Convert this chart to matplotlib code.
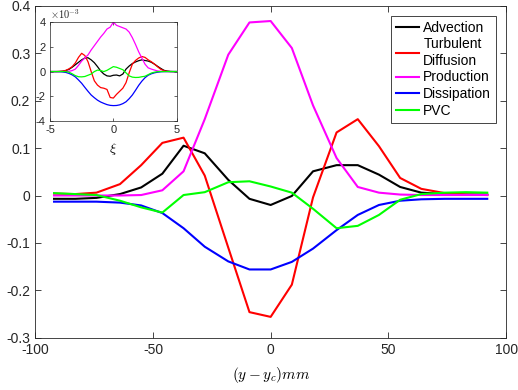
import numpy as np
import matplotlib
matplotlib.use('Agg')
import matplotlib.pyplot as plt

plt.rcParams['font.family'] = ['Liberation Sans', 'DejaVu Sans']
plt.rcParams['mathtext.fontset'] = 'cm'
plt.rcParams['axes.unicode_minus'] = False

# main profiles, (y - y_c) in mm
y = [-92, -83, -74, -64, -55, -46, -37, -28, -18, -9, 0,
     9, 18, 28, 37, 46, 55, 64, 74, 83, 92]
advection = [-0.007, -0.007, -0.005, 0.003, 0.017, 0.046, 0.105, 0.089, 0.033, -0.007, -0.020,
             -0.001, 0.051, 0.064, 0.064, 0.044, 0.018, 0.006, 0.003, 0.002, 0.002]
turb_diff = [0.004, 0.003, 0.006, 0.024, 0.064, 0.111, 0.122, 0.042, -0.110, -0.246, -0.256,
             -0.188, -0.004, 0.133, 0.161, 0.104, 0.037, 0.014, 0.005, 0.002, 0.001]
production = [0.0, 0.0, 0.0, 0.0, 0.001, 0.011, 0.051, 0.161, 0.297, 0.365, 0.368,
              0.311, 0.190, 0.079, 0.018, 0.006, 0.002, 0.001, 0.001, 0.001, 0.001]
dissipation = [-0.013, -0.013, -0.013, -0.015, -0.021, -0.037, -0.069, -0.108, -0.139, -0.156, -0.156,
               -0.140, -0.112, -0.073, -0.041, -0.020, -0.011, -0.008, -0.007, -0.007, -0.007]
pvc = [0.005, 0.003, 0.001, -0.011, -0.025, -0.036, 0.001, 0.007, 0.028, 0.030, 0.019,
       0.006, -0.028, -0.069, -0.064, -0.041, -0.009, 0.003, 0.006, 0.007, 0.006]

# inset, similarity coordinate xi (values x 1e-3)
xi = np.arange(-5, 5.01, 0.25)
in_adv = [0, 0, 0, 0.01, 0.03, 0.08, 0.18, 0.35, 0.55, 0.75, 0.95, 1.1, 1.12, 0.95, 0.72, 0.4,
          0.05, -0.2, -0.35, -0.38, -0.3, -0.28, -0.35, -0.2, 0.2, 0.45, 0.65, 0.78, 0.88, 0.95,
          0.9, 0.85, 0.75, 0.6, 0.42, 0.25, 0.1, 0.04, 0.01, 0, 0]
in_turb = [0, 0, 0, 0.01, 0.03, 0.1, 0.22, 0.4, 0.7, 1.15, 1.48, 1.3, 0.8, 0.0, -0.75, -1.1,
           -1.3, -1.35, -1.45, -2.1, -2.15, -1.85, -1.6, -1.35, -0.9, -0.1, 0.6, 0.9, 1.1, 1.22,
           1.15, 0.95, 0.8, 0.6, 0.38, 0.18, 0.07, 0.02, 0, 0, 0]
in_prod = [0, 0, 0, 0, 0, 0, 0.02, 0.08, 0.2, 0.5, 0.85, 1.1, 1.35, 1.75, 2.1, 2.45,
           2.8, 3.1, 3.45, 3.6, 4.0, 3.75, 3.65, 3.55, 3.45, 3.2, 2.75, 2.2, 1.6, 1.1,
           0.6, 0.3, 0.2, 0.12, 0.05, 0.02, 0, 0, 0, 0, 0]
in_diss = [0, 0, 0, -0.01, -0.03, -0.07, -0.15, -0.27, -0.43, -0.68, -0.95, -1.28, -1.6, -1.9, -2.12, -2.32,
           -2.47, -2.58, -2.68, -2.74, -2.76, -2.75, -2.7, -2.6, -2.45, -2.2, -1.9, -1.52, -1.12, -0.78,
           -0.5, -0.3, -0.18, -0.1, -0.05, -0.02, 0, 0, 0, 0, 0]
in_pvc = [0, 0, 0, 0, 0, 0, -0.05, -0.18, -0.33, -0.42, -0.43, -0.4, -0.3, -0.2, 0.0, 0.12,
          0.08, 0.0, 0.1, 0.25, 0.4, 0.35, 0.25, 0.15, -0.1, -0.35, -0.45, -0.48, -0.47, -0.42,
          -0.38, -0.25, -0.12, -0.05, -0.01, 0, 0, 0, 0, 0, 0]

labels = ['Advection', 'Turbulent\nDiffusion', 'Production', 'Dissipation', 'PVC']
colors = ['#000000', '#ff0000', '#ff00ff', '#0000ff', '#00ff00']
grey = '#262626'

fig = plt.figure(figsize=(5.18, 3.9), dpi=100)
ax = fig.add_axes([0.068, 0.134, 0.909, 0.851])
for d, c, l in zip([advection, turb_diff, production, dissipation, pvc], colors, labels):
    ax.plot(y, d, color=c, lw=1.5, label=l)
ax.set_xlim(-100, 100)
ax.set_ylim(-0.3, 0.4)
ax.set_xticks([-100, -50, 0, 50, 100])
ax.set_yticks(np.arange(-0.3, 0.41, 0.1))
ax.set_yticklabels(['-0.3', '-0.2', '-0.1', '0', '0.1', '0.2', '0.3', '0.4'])
ax.tick_params(direction='in', top=True, right=True, labelsize=10, colors=grey,
               length=4, width=0.6)
for s in ax.spines.values():
    s.set_color(grey)
    s.set_linewidth(0.6)
ax.set_xlabel('$(y-y_c)mm$', fontsize=11, labelpad=6)
leg = ax.legend(loc='upper right', fontsize=10, handlelength=1.7, handletextpad=0.3,
                labelspacing=0.2, borderpad=0.35, borderaxespad=0.72, fancybox=False,
                framealpha=1, edgecolor=grey)
leg.get_frame().set_linewidth(0.6)

# inset
ax2 = fig.add_axes([0.0965, 0.690, 0.2446, 0.253])
for d, c in zip([in_adv, in_turb, in_prod, in_diss, in_pvc], colors):
    ax2.plot(xi, d, color=c, lw=0.9)
ax2.set_xlim(-5, 5)
ax2.set_ylim(-4, 4)
ax2.set_xticks([-5, 0, 5])
ax2.set_yticks([-4, -2, 0, 2, 4])
ax2.set_yticklabels(['-4', '-2', '0', '2', '4'])
ax2.set_xticklabels(['-5', '0', '5'])
ax2.tick_params(direction='in', top=True, right=True, labelsize=8, colors=grey,
                length=2.5, width=0.5, pad=3)
for s in ax2.spines.values():
    s.set_color(grey)
    s.set_linewidth(0.5)
ax2.set_xlabel(r'$\xi$', fontsize=10, labelpad=4)
ax2.text(0.0, 1.01, r'$\times10^{-3}$', transform=ax2.transAxes, fontsize=7.5,
         color=grey, va='bottom', ha='left')

fig.savefig('out.png', dpi=100)
